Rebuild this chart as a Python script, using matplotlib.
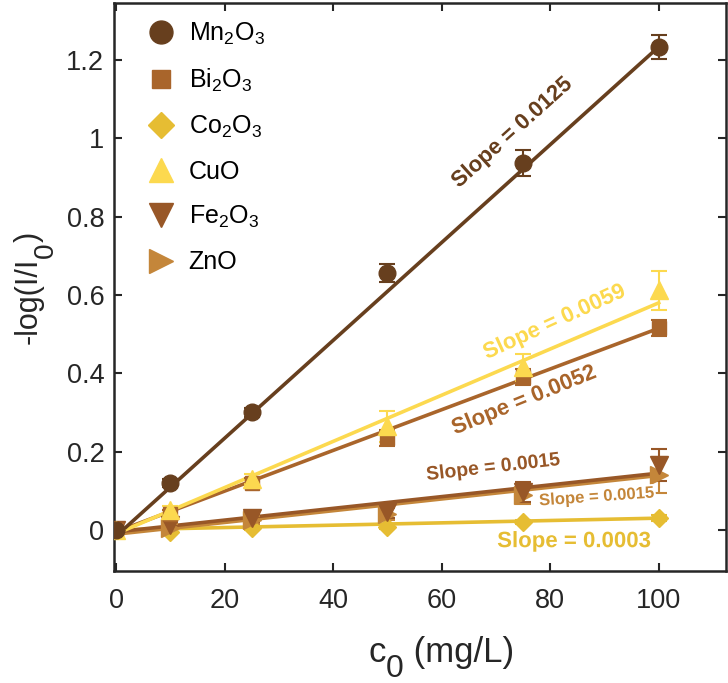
import numpy as np
import matplotlib
matplotlib.use('Agg')
import matplotlib.pyplot as plt
import matplotlib.patheffects as pe
from matplotlib.lines import Line2D
from matplotlib.ticker import FuncFormatter
from matplotlib.transforms import IdentityTransform

plt.rcParams['font.family'] = ['Liberation Sans', 'DejaVu Sans']
plt.rcParams['mathtext.fontset'] = 'custom'
plt.rcParams['mathtext.rm'] = 'Liberation Sans'
plt.rcParams['mathtext.it'] = 'Liberation Sans:italic'
plt.rcParams['mathtext.bf'] = 'Liberation Sans:bold'

# concentrations (mg/L)
c0 = [0, 10, 25, 50, 75, 100]

names = ['Mn$_2$O$_3$', 'Bi$_2$O$_3$', 'Co$_2$O$_3$', 'CuO', 'Fe$_2$O$_3$', 'ZnO']
mn2o3 = [0.0, 0.12, 0.30, 0.656, 0.937, 1.234]
bi2o3 = [0.0, 0.04, 0.12, 0.235, 0.39, 0.515]
co2o3 = [0.0, -0.005, 0.004, 0.008, 0.02, 0.03]
cuo = [0.0, 0.05, 0.13, 0.265, 0.415, 0.612]
fe2o3 = [0.0, 0.012, 0.03, 0.045, 0.097, 0.166]
zno = [0.0, 0.006, 0.025, 0.04, 0.09, 0.14]

mn2o3_err = [0.008, 0.01, 0.012, 0.022, 0.033, 0.03]
bi2o3_err = [0.005, 0.01, 0.012, 0.02, 0.02, 0.02]
co2o3_err = [0.004, 0.005, 0.005, 0.006, 0.006, 0.008]
cuo_err = [0.005, 0.01, 0.012, 0.04, 0.035, 0.05]
fe2o3_err = [0.005, 0.008, 0.01, 0.015, 0.025, 0.04]
zno_err = [0.005, 0.008, 0.01, 0.015, 0.025, 0.045]

# fitted lines
slopes = [0.0125, 0.0052, 0.0003, 0.0059, 0.0015, 0.0015]
intercepts = [-0.016, -0.005, 0.0, -0.01, -0.005, -0.011]
slope_labels = ['Slope = 0.0125', 'Slope = 0.0052', 'Slope = 0.0003',
                'Slope = 0.0059', 'Slope = 0.0015', 'Slope = 0.0015']
label_pos = [(73, 1.014), (75.2, 0.33), (84.4, -0.03),
             (80.8, 0.53), (69.5, 0.158), (88.5, 0.084)]
label_rot = [42, 22, 0, 24.5, 6.5, 4]
label_size = [16, 16, 16, 16, 14, 12]

colors = ['#673F1E', '#A9652B', '#E6BD33', '#FCD94F', '#985727', '#C4863A']
markers = ['o', 's', 'D', '^', 'v', '>']
msizes = [12, 10, 9, 13, 13, 13]
leg_sizes = [16.5, 12.5, 13, 17, 17, 17]

series = [mn2o3, bi2o3, co2o3, cuo, fe2o3, zno]
errs = [mn2o3_err, bi2o3_err, co2o3_err, cuo_err, fe2o3_err, zno_err]

W, H = 728, 683
fig = plt.figure(figsize=(W / 100, H / 100), dpi=100)
ax = fig.add_axes([114 / W, 1 - 571 / H, 612 / W, 568 / H])

xfit = np.array([0, 100])
draw_order = [2, 5, 4, 1, 3, 0]
for i in draw_order:
    ax.plot(xfit, slopes[i] * xfit + intercepts[i], color=colors[i], lw=2.6, zorder=2)
    ax.errorbar(c0, series[i], yerr=errs[i], fmt=markers[i], ms=msizes[i],
                color=colors[i], ecolor=colors[i], elinewidth=1.5, capsize=6,
                capthick=1.5, zorder=3)

halo = [pe.withStroke(linewidth=3, foreground='white')]
for i in range(6):
    ax.text(label_pos[i][0], label_pos[i][1], slope_labels[i], color=colors[i],
            fontsize=label_size[i], fontweight='bold', rotation=label_rot[i],
            ha='center', va='center', path_effects=halo, zorder=5)

handles = [Line2D([], [], ls='none', marker=markers[i], ms=leg_sizes[i],
                  color=colors[i]) for i in range(6)]
ax.legend(handles, names, loc='upper left', bbox_to_anchor=(0.028, 1.0),
          frameon=False, fontsize=18, handlelength=1.0, handletextpad=0.6,
          labelspacing=0.8, borderaxespad=0.3)

ax.set_xlim(-0.37, 112.4)
ax.set_ylim(-0.105, 1.346)
ax.set_xticks([0, 20, 40, 60, 80, 100])
ax.set_yticks([0, 0.2, 0.4, 0.6, 0.8, 1.0, 1.2])
ax.yaxis.set_major_formatter(FuncFormatter(lambda v, p: '%g' % round(v, 2)))

ax.tick_params(direction='in', length=6, width=1.5, top=True, right=True,
               labelsize=19.5, colors='#262626')
ax.tick_params(axis='x', pad=12)
ax.tick_params(axis='y', pad=7)
for s in ax.spines.values():
    s.set_linewidth(1.8)
    s.set_color('#262626')


# axis labels with near full-size, lowered subscripts
def piece_label(pieces, x, y, size, rotation=0):
    r = fig.canvas.get_renderer()
    texts, lengths = [], []
    for s, shift, scale in pieces:
        t = fig.text(0, 0, s, fontsize=size * scale, color='#262626',
                     rotation=rotation, rotation_mode='anchor', ha='left',
                     va='baseline', transform=IdentityTransform())
        bb = t.get_window_extent(r)
        lengths.append(bb.width if rotation == 0 else bb.height)
        texts.append((t, shift))
    pos = -sum(lengths) / 2
    for (t, shift), L in zip(texts, lengths):
        if rotation == 0:
            t.set_position((x + pos, H - y - shift))
        else:
            t.set_position((x + shift, H - y + pos))
        pos += L


piece_label([('c', 0, 1), ('0', 15, 0.92), (' (mg/L)', 0, 1)], 441, 662, 25)
piece_label([('-log(I/I', 0, 1), ('0', 16, 0.92), (')', 0, 1)], 37, 288, 22,
            rotation=90)

fig.savefig('out.png', dpi=100)
